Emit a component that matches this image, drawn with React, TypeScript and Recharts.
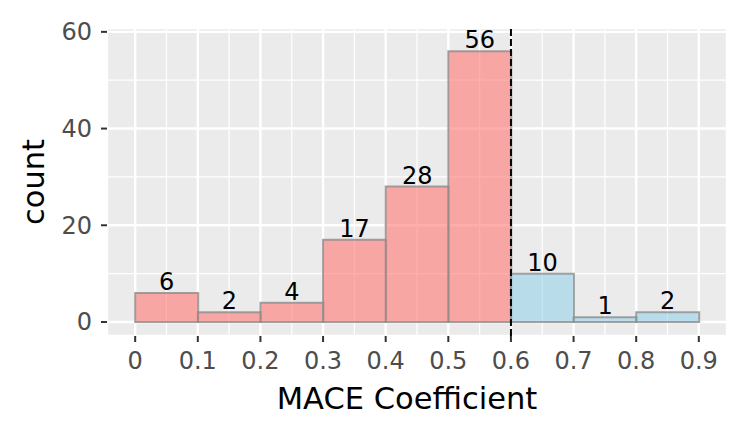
import React from 'react';
import {
  ComposedChart,
  Bar,
  XAxis,
  YAxis,
  CartesianGrid,
  ReferenceLine,
  LabelList,
  Cell,
} from 'recharts';

const binCenters = [0.05, 0.15, 0.25, 0.35, 0.45, 0.55, 0.65, 0.75, 0.85];
const counts = [6, 2, 4, 17, 28, 56, 10, 1, 2];
const groups = ['low', 'low', 'low', 'low', 'low', 'low', 'high', 'high', 'high'];
const xTicks = [0, 0.1, 0.2, 0.3, 0.4, 0.5, 0.6, 0.7, 0.8, 0.9];
const xMinor = [0.05, 0.15, 0.25, 0.35, 0.45, 0.55, 0.65, 0.75, 0.85];
const yTicks = [0, 20, 40, 60];
const yMinor = [10, 30, 50];
const threshold = 0.6;

const groupFill: Record<string, string> = { low: '#ff7873', high: '#87ceeb' };
const groupOpacity: Record<string, number> = { low: 0.6, high: 0.5 };

const data = binCenters.map((x, i) => ({ x, count: counts[i], group: groups[i] }));

const FONT = 'DejaVu Sans, sans-serif';

export default function App() {
  return (
    <div style={{ position: 'absolute', left: 0, top: 0, background: '#fff' }}>
      <ComposedChart
        width={747}
        height={436}
        data={data}
        margin={{ top: 28, right: 20, bottom: 0, left: 0 }}
        barCategoryGap={0}
        barGap={0}
      >
        <CartesianGrid
          fill="#EBEBEB"
          fillOpacity={1}
          stroke="#ffffff"
          strokeWidth={1.2}
          horizontalValues={yMinor}
          verticalValues={xMinor}
        />
        <CartesianGrid stroke="#ffffff" strokeWidth={2.4} />
        <XAxis
          dataKey="x"
          type="number"
          domain={[-0.045, 0.945]}
          ticks={xTicks}
          allowDataOverflow
          height={100}
          axisLine={false}
          tickSize={6}
          tickMargin={10}
          tickLine={{ stroke: '#333333', strokeWidth: 2 }}
          tick={{ fill: '#4D4D4D', fontSize: 24, fontFamily: FONT }}
          tickFormatter={(v: number) => String(v)}
          interval={0}
          label={{
            content: (props: any) => {
              const vb = props.viewBox || {};
              return (
                <text
                  x={vb.x + vb.width / 2 - 10}
                  y={409}
                  textAnchor="middle"
                  fontSize={30.5}
                  fontFamily={FONT}
                  fill="#000"
                >
                  MACE Coefficient
                </text>
              );
            },
          }}
        />
        <YAxis
          type="number"
          domain={[-2.9, 60.8]}
          ticks={yTicks}
          allowDataOverflow
          width={107}
          axisLine={false}
          tickSize={6}
          tickMargin={9}
          tickLine={{ stroke: '#333333', strokeWidth: 2 }}
          tick={{ fill: '#4D4D4D', fontSize: 24, fontFamily: FONT }}
          interval={0}
          label={{
            content: (props: any) => {
              const vb = props.viewBox || {};
              const cy = vb.y + vb.height / 2;
              return (
                <text
                  x={44}
                  y={cy}
                  transform={`rotate(-90, 44, ${cy})`}
                  textAnchor="middle"
                  fontSize={30.5}
                  fontFamily={FONT}
                  fill="#000"
                >
                  count
                </text>
              );
            },
          }}
        />
        <Bar
          dataKey="count"
          isAnimationActive={false}
          stroke="#8c8c8c"
          strokeWidth={2}
          strokeOpacity={0.8}
        >
          {data.map((d, i) => (
            <Cell key={i} fill={groupFill[d.group]} fillOpacity={groupOpacity[d.group]} />
          ))}
          <LabelList
            dataKey="count"
            position="top"
            offset={3}
            fill="#000"
            fontSize={24}
            fontFamily={FONT}
          />
        </Bar>
        <ReferenceLine x={threshold} stroke="#000" strokeWidth={2} strokeDasharray="7 3" />
      </ComposedChart>
    </div>
  );
}
